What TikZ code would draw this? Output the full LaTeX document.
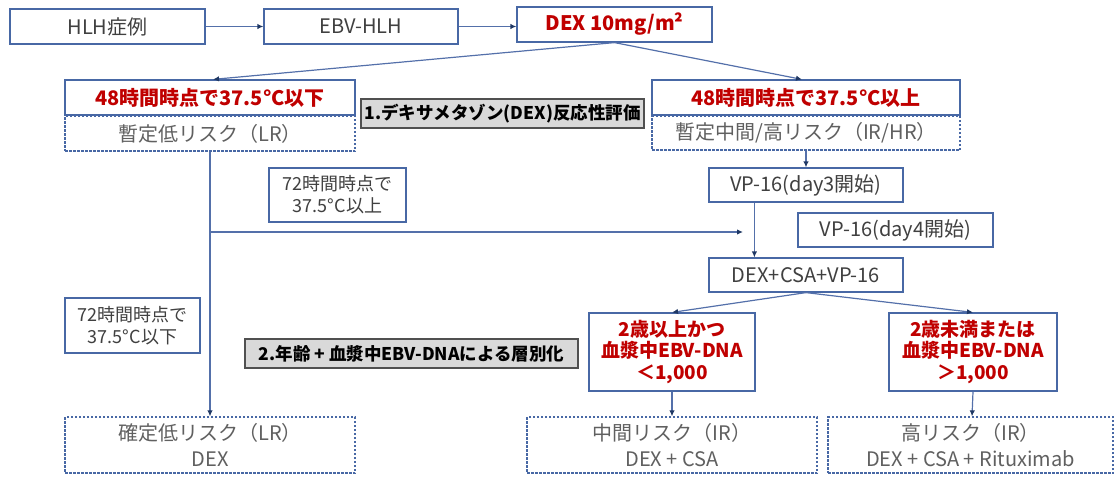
\documentclass[tikz,border=0pt]{standalone}
\usepackage{fontspec}
\setmainfont{Noto Sans CJK JP}
\usetikzlibrary{arrows.meta}
\definecolor{bcol}{RGB}{72,104,165}
\definecolor{lcol}{RGB}{84,112,170}
\definecolor{acol}{RGB}{31,56,100}
\definecolor{redt}{RGB}{192,0,0}
\definecolor{txt}{RGB}{64,64,64}
\definecolor{gtxt}{RGB}{96,96,96}
\definecolor{labfill}{RGB}{217,217,217}
\definecolor{labdraw}{RGB}{80,80,80}
\tikzset{
  box/.style={draw=bcol, line width=1.2pt, fill=white, inner sep=0pt, text=txt, align=center, font=\fontsize{20}{26}\selectfont},
  redbox/.style={box, text=redt, font=\fontsize{20}{24}\selectfont\bfseries},
  dbox/.style={draw=bcol, line width=1.3pt, dash pattern=on 2.5pt off 1.5pt, fill=white, inner sep=0pt, text=gtxt, align=center, font=\fontsize{20}{26}\selectfont},
  labbox/.style={draw=labdraw, line width=1.2pt, fill=labfill, inner sep=0pt, text=black, font=\fontsize{17.5}{21}\selectfont\bfseries},
  arr/.style={draw=lcol, line width=1.2pt, -{Latex[length=6pt,width=5.5pt,color=acol]}},
  ln/.style={draw=lcol, line width=1.2pt}
}
\begin{document}
\begin{tikzpicture}[x=1pt,y=-1pt]
\useasboundingbox (0,0) rectangle (1116,477);
% top row
\node[box, minimum width=195pt, minimum height=35pt] (hlh) at (107.5,26.5) {HLH症例};
\node[box, minimum width=194pt, minimum height=35pt] (ebv) at (361,26.5) {EBV-HLH};
\node[redbox, minimum width=195pt, minimum height=35pt] (dex) at (614.5,24.5) {DEX 10mg/m²};
% 48h row
\node[dbox, minimum width=290pt, minimum height=35pt] (lr) at (210,133.5) {暫定低リスク（LR）};
\node[redbox, minimum width=290pt, minimum height=35pt] (h48l) at (210,97.5) {48時間時点で37.5°C以下};
\node[labbox, minimum width=283pt, minimum height=29pt] (lab1) at (502.5,113.5) {1.デキサメタゾン(DEX)反応性評価};
\node[dbox, minimum width=308pt, minimum height=34pt] (ir) at (806,133) {暫定中間/高リスク（IR/HR）};
\node[redbox, minimum width=308pt, minimum height=35pt] (h48r) at (806,97.5) {48時間時点で37.5°C以上};
% middle
\node[box, font=\fontsize{18}{21.7}\selectfont, minimum width=137pt, minimum height=54pt] (t72u) at (337.5,195) {72時間時点で\\37.5°C以上};
\node[box, font=\fontsize{18}{21.7}\selectfont, minimum width=135pt, minimum height=55pt] (t72d) at (132.5,325.5) {72時間時点で\\37.5°C以下};
\node[box, minimum width=194pt, minimum height=34pt] (vp3) at (806,185) {VP-16(day3開始)};
\node[box, minimum width=195pt, minimum height=34pt] (vp4) at (895.5,230) {VP-16(day4開始)};
\node[box, minimum width=194pt, minimum height=34pt] (dcv) at (806,275) {DEX+CSA+VP-16};
\node[labbox, minimum width=333pt, minimum height=29pt] (lab2) at (411.5,353.5) {2.年齢 + 血漿中EBV-DNAによる層別化};
\node[redbox, font=\fontsize{19}{21.7}\selectfont\bfseries, minimum width=166pt, minimum height=78pt] (c1) at (672,352) {2歳以上かつ\\血漿中EBV-DNA\\＜1,000};
\node[redbox, font=\fontsize{19}{21.7}\selectfont\bfseries, minimum width=168pt, minimum height=78pt] (c2) at (973,352) {2歳未満または\\血漿中EBV-DNA\\＞1,000};
% bottom
\node[dbox, minimum width=290pt, minimum height=56pt] (lrd) at (210,445) {確定低リスク（LR）\\DEX};
\node[dbox, minimum width=290pt, minimum height=56pt] (mir) at (672,445) {中間リスク（IR）\\DEX + CSA};
\node[dbox, minimum width=285pt, minimum height=56pt] (hr) at (970.5,445) {高リスク（IR）\\DEX + CSA + Rituximab};
% connectors
\draw[arr] (hlh.east) -- (ebv.west);
\draw[arr] (ebv.east) -- (ebv.east -| dex.west);
\draw[arr] (dex.south) -- ([xshift=3pt]h48l.north);
\draw[arr] (dex.south) -- ([xshift=-4pt]h48r.north);
\draw[arr] (ir.south) -- (vp3.north);
\draw[arr] ([xshift=46pt]vp3.south west) -- ([xshift=46pt]dcv.north west);
\draw[arr] (lr.south) -- (lrd.north);
\coordinate (jend) at (743,232);
\draw[arr] (lr.south |- jend) -- (jend);
\draw[arr] (dcv.south) -- (c1.north);
\draw[arr] (dcv.south) -- (c2.north);
\draw[arr] (c1.south) -- (mir.north);
\draw[arr] (c2.south) -- ([xshift=1.5pt]hr.north);
\end{tikzpicture}
\end{document}
